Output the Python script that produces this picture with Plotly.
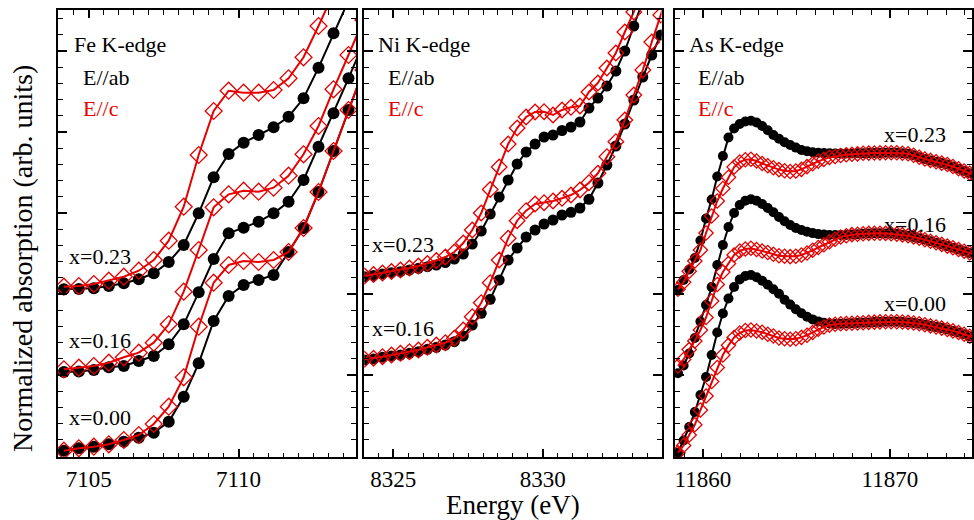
import plotly.graph_objects as go

# ---------------- data ----------------
# Fe K-edge
fe_energy = [7104.17, 7104.67, 7105.17, 7105.67, 7106.17, 7106.67, 7107.17, 7107.67, 7108.17, 7108.67,
             7109.17, 7109.67, 7110.17, 7110.67, 7111.17, 7111.67, 7112.17, 7112.67, 7113.17, 7113.67, 7114.17]
fe_000_ab = [0.063, 0.087, 0.103, 0.127, 0.153, 0.193, 0.243, 0.353, 0.603, 0.937, 1.36, 1.61, 1.72, 1.77, 1.82, 2.05, 2.29, 2.65, 3.06, 3.47, 3.87]
fe_000_c = [0.063, 0.087, 0.103, 0.127, 0.17, 0.22, 0.33, 0.503, 0.797, 1.303, 1.743, 1.92, 1.96, 1.95, 1.97, 2.05, 2.29, 2.65, 3.06, 3.47, 3.87]
fe_016_ab = [0.85, 0.855, 0.87, 0.897, 0.91, 0.96, 1.01, 1.127, 1.327, 1.647, 1.98, 2.237, 2.293, 2.353, 2.437, 2.553, 2.77, 3.103, 3.437, 3.787, 4.14]
fe_016_c = [0.877, 0.893, 0.91, 0.943, 0.997, 1.043, 1.143, 1.327, 1.653, 2.07, 2.497, 2.627, 2.663, 2.653, 2.693, 2.813, 3.027, 3.31, 3.677, 4.02, 4.37]
fe_023_ab = [1.677, 1.68, 1.687, 1.71, 1.737, 1.777, 1.837, 1.95, 2.12, 2.437, 2.797, 3.03, 3.143, 3.22, 3.297, 3.403, 3.587, 3.893, 4.237, 4.57, 4.9]
fe_023_c = [1.703, 1.71, 1.73, 1.763, 1.803, 1.863, 1.97, 2.163, 2.503, 3.02, 3.46, 3.663, 3.643, 3.643, 3.67, 3.787, 3.997, 4.31, 4.65, 4.97, 5.27]

# Ni K-edge
ni_energy = [8324.04, 8324.34, 8324.64, 8324.94, 8325.24, 8325.54, 8325.84, 8326.14, 8326.44, 8326.74,
             8327.04, 8327.34, 8327.64, 8327.94, 8328.24, 8328.54, 8328.84, 8329.14, 8329.44, 8329.74,
             8330.04, 8330.34, 8330.64, 8330.94, 8331.24, 8331.54, 8331.84, 8332.14, 8332.44, 8332.74,
             8333.04, 8333.34, 8333.64, 8333.94, 8334.24]
ni_016_ab = [0.97, 0.98, 0.997, 1.01, 1.02, 1.037, 1.053, 1.077, 1.097, 1.12, 1.153, 1.21, 1.32, 1.437, 1.577, 1.77, 1.97, 2.09,
             2.2, 2.27, 2.33, 2.37, 2.42, 2.447, 2.49, 2.577, 2.74, 2.92, 3.11, 3.33, 3.57, 3.8, 4.02, 4.22, 4.45]
ni_016_c = [0.977, 0.987, 1.003, 1.02, 1.037, 1.053, 1.07, 1.097, 1.12, 1.143, 1.187, 1.27, 1.403, 1.543, 1.743, 1.97, 2.187, 2.363,
            2.463, 2.53, 2.543, 2.56, 2.587, 2.62, 2.67, 2.743, 2.837, 3.003, 3.153, 3.37, 3.62, 3.87, 4.15, 4.42, 4.69]
ni_023_ab = [1.803, 1.815, 1.83, 1.843, 1.853, 1.87, 1.887, 1.903, 1.92, 1.945, 1.98, 2.03, 2.13, 2.26, 2.43, 2.6, 2.77, 2.93,
             3.05, 3.13, 3.2, 3.22, 3.265, 3.3, 3.35, 3.49, 3.59, 3.71, 3.86, 4.06, 4.31, 4.57, 4.82, 5.07, 5.32]
ni_023_c = [1.81, 1.825, 1.84, 1.855, 1.87, 1.89, 1.91, 1.935, 1.965, 2.0, 2.05, 2.14, 2.27, 2.44, 2.675, 2.9, 3.13, 3.29,
            3.4, 3.45, 3.453, 3.42, 3.47, 3.497, 3.51, 3.65, 3.74, 3.89, 4.04, 4.25, 4.45, 4.72, 4.97, 5.22, 5.47]

# As K-edge
as_energy = [11858.67, 11858.97, 11859.27, 11859.57, 11859.87, 11860.17, 11860.47, 11860.77, 11861.07, 11861.37,
             11861.67, 11861.97, 11862.27, 11862.57, 11862.87, 11863.17, 11863.47, 11863.77, 11864.07, 11864.37,
             11864.67, 11864.97, 11865.27, 11865.57, 11865.87, 11866.17, 11866.47, 11866.77, 11867.07, 11867.37,
             11867.67, 11867.97, 11868.27, 11868.57, 11868.87, 11869.17, 11869.47, 11869.77, 11870.07, 11870.37,
             11870.67, 11870.97, 11871.27, 11871.57, 11871.87, 11872.17, 11872.47, 11872.77, 11873.07, 11873.37,
             11873.67, 11873.97, 11874.27, 11874.57]
as_000_ab = [0.043, 0.165, 0.30, 0.45, 0.62, 0.80, 1.02, 1.245, 1.435, 1.585, 1.70, 1.775, 1.81, 1.82, 1.798, 1.762, 1.722, 1.678,
             1.632, 1.572, 1.524, 1.477, 1.438, 1.402, 1.376, 1.356, 1.342, 1.335, 1.33, 1.332, 1.335, 1.337, 1.34, 1.343, 1.346,
             1.349, 1.351, 1.352, 1.353, 1.352, 1.35, 1.346, 1.34, 1.332, 1.322, 1.311, 1.30, 1.289, 1.275, 1.261, 1.245, 1.227,
             1.208, 1.19]
as_000_c = [0.043, 0.115, 0.22, 0.322, 0.47, 0.61, 0.755, 0.895, 1.02, 1.117, 1.195, 1.24, 1.265, 1.27, 1.26, 1.247, 1.228, 1.21,
            1.19, 1.182, 1.177, 1.182, 1.196, 1.218, 1.245, 1.277, 1.30, 1.319, 1.328, 1.332, 1.335, 1.337, 1.34, 1.343, 1.346,
            1.349, 1.351, 1.352, 1.353, 1.352, 1.35, 1.346, 1.34, 1.332, 1.322, 1.311, 1.30, 1.289, 1.275, 1.261, 1.245, 1.227,
            1.208, 1.19]
as_016_ab = [0.837, 0.915, 1.035, 1.19, 1.355, 1.52, 1.70, 1.92, 2.12, 2.30, 2.44, 2.52, 2.563, 2.577, 2.563, 2.53, 2.49, 2.447,
             2.40, 2.358, 2.32, 2.29, 2.27, 2.252, 2.239, 2.229, 2.224, 2.22, 2.22, 2.22, 2.221, 2.224, 2.228, 2.232, 2.236,
             2.237, 2.237, 2.236, 2.233, 2.229, 2.221, 2.212, 2.201, 2.187, 2.172, 2.157, 2.143, 2.126, 2.109, 2.092, 2.075,
             2.058, 2.04, 2.022]
as_016_c = [0.91, 0.975, 1.074, 1.16, 1.27, 1.395, 1.56, 1.725, 1.85, 1.935, 2.02, 2.06, 2.08, 2.087, 2.075, 2.06, 2.045, 2.027,
            2.013, 2.007, 2.004, 2.008, 2.02, 2.04, 2.067, 2.095, 2.123, 2.152, 2.177, 2.20, 2.213, 2.224, 2.228, 2.232, 2.236,
            2.237, 2.237, 2.236, 2.233, 2.229, 2.221, 2.212, 2.201, 2.187, 2.172, 2.157, 2.143, 2.126, 2.109, 2.092, 2.075,
            2.058, 2.04, 2.022]
as_023_ab = [1.67, 1.77, 1.875, 1.99, 2.165, 2.385, 2.575, 2.805, 3.01, 3.195, 3.285, 3.33, 3.355, 3.363, 3.345, 3.31, 3.267, 3.22,
             3.183, 3.147, 3.12, 3.094, 3.07, 3.057, 3.048, 3.042, 3.039, 3.037, 3.036, 3.035, 3.035, 3.036, 3.037, 3.038, 3.039,
             3.04, 3.041, 3.042, 3.042, 3.042, 3.038, 3.032, 3.018, 2.998, 2.98, 2.966, 2.953, 2.939, 2.925, 2.905, 2.882, 2.86,
             2.837, 2.815]
as_023_c = [1.677, 1.747, 1.857, 1.96, 2.07, 2.24, 2.41, 2.56, 2.685, 2.797, 2.90, 2.95, 2.972, 2.977, 2.96, 2.935, 2.913, 2.892,
            2.874, 2.863, 2.855, 2.86, 2.876, 2.904, 2.932, 2.957, 2.976, 2.996, 3.005, 3.015, 3.022, 3.027, 3.031, 3.038, 3.039,
            3.04, 3.041, 3.042, 3.042, 3.042, 3.038, 3.032, 3.018, 2.998, 2.98, 2.966, 2.953, 2.939, 2.925, 2.905, 2.882, 2.86,
            2.837, 2.815]

edge_labels = ["Fe K-edge", "Ni K-edge", "As K-edge"]
pol_labels = ["E//ab", "E//c"]

# ---------------- styling / layout ----------------
W, H = 974, 520
BLACK = "#000000"
RED = "#e60000"
FONT = "'Liberation Serif', 'Times New Roman', Times, serif"


def fx(x):
    return x / W


def fy(y):
    return 1 - y / H


fig = go.Figure()

panels = [
    dict(E=fe_energy, ab=[fe_000_ab, fe_016_ab, fe_023_ab], c=[fe_000_c, fe_016_c, fe_023_c], n="", ms=12),
    dict(E=ni_energy, ab=[ni_016_ab, ni_023_ab], c=[ni_016_c, ni_023_c], n="2", ms=11),
    dict(E=as_energy, ab=[as_000_ab, as_016_ab, as_023_ab], c=[as_000_c, as_016_c, as_023_c], n="3", ms=10),
]

for p in panels:
    for ys in p["ab"]:
        fig.add_trace(go.Scatter(x=p["E"], y=ys, mode="lines+markers", xaxis="x" + p["n"], yaxis="y" + p["n"],
                                 line=dict(color=BLACK, width=2),
                                 marker=dict(symbol="circle", size=p["ms"], color=BLACK),
                                 showlegend=False, hoverinfo="skip"))
    for ys in p["c"]:
        fig.add_trace(go.Scatter(x=p["E"], y=ys, mode="lines+markers", xaxis="x" + p["n"], yaxis="y" + p["n"],
                                 line=dict(color=RED, width=2),
                                 marker=dict(symbol="diamond-open", size=p["ms"] + 1, color=RED, line=dict(width=1.3)),
                                 showlegend=False, hoverinfo="skip"))

ydom = [fy(457), fy(10)]


def xax(dom, rng, t0, dt, mdt):
    return dict(domain=dom, range=rng, showline=True, linewidth=2, linecolor=BLACK, mirror="ticks",
                ticks="inside", ticklen=8, tickwidth=1.5, tickcolor=BLACK, tick0=t0, dtick=dt,
                minor=dict(ticks="inside", ticklen=4.5, tickwidth=1.2, tickcolor=BLACK, tick0=t0, dtick=mdt),
                showgrid=False, zeroline=False, tickformat="d",
                tickfont=dict(family=FONT, size=23, color=BLACK))


def yax(anchor):
    return dict(domain=ydom, range=[0, 4.47], anchor=anchor, showline=True, linewidth=2, linecolor=BLACK,
                mirror="ticks", ticks="inside", ticklen=9, tickwidth=1.5, tickcolor=BLACK, tick0=0.01, dtick=0.81,
                minor=dict(ticks="inside", ticklen=5, tickwidth=1.2, tickcolor=BLACK, tick0=0.01, dtick=0.162),
                showticklabels=False, showgrid=False, zeroline=False)


fig.update_layout(
    width=W, height=H, margin=dict(l=0, r=0, t=0, b=0),
    paper_bgcolor="white", plot_bgcolor="white", showlegend=False,
    font=dict(family=FONT),
    xaxis=dict(xax([fx(58), fx(357)], [7103.97, 7113.93], 7105, 5, 0.5), anchor="y"),
    xaxis2=dict(xax([fx(365), fx(663)], [8324.03, 8333.97], 8325, 5, 0.5), anchor="y2"),
    xaxis3=dict(xax([fx(676), 1.0], [11858.49, 11874.39], 11860, 10, 1), anchor="y3"),
    yaxis=yax("x"), yaxis2=yax("x2"), yaxis3=yax("x3"),
)

ann = []


def text(t, x, y, color=BLACK, size=22, xanchor="left", angle=0):
    ann.append(dict(text=t, x=fx(x), y=fy(y), xref="paper", yref="paper", showarrow=False,
                    xanchor=xanchor, yanchor="middle", textangle=angle,
                    font=dict(family=FONT, size=size, color=color)))


# edge / polarisation labels
for lab, x0, x1 in zip(edge_labels, [72, 377, 688], [81, 387, 697]):
    text(lab, x0, 44)
    text(pol_labels[0], x1, 77)
    text(pol_labels[1], x1, 108, color=RED)

# composition labels
text("x=0.23", 67, 256)
text("x=0.16", 67, 340)
text("x=0.00", 67, 417)
text("x=0.23", 371, 244)
text("x=0.16", 371, 328)
text("x=0.23", 884, 135)
text("x=0.16", 884, 224)
text("x=0.00", 884, 303)

# axis titles
text("Energy (eV)", 514, 505, size=27, xanchor="center")
text("Normalized absorption (arb. units)", 22, 258, size=28, xanchor="center", angle=-90)

fig.update_layout(annotations=ann)
fig.write_html("out.html")
